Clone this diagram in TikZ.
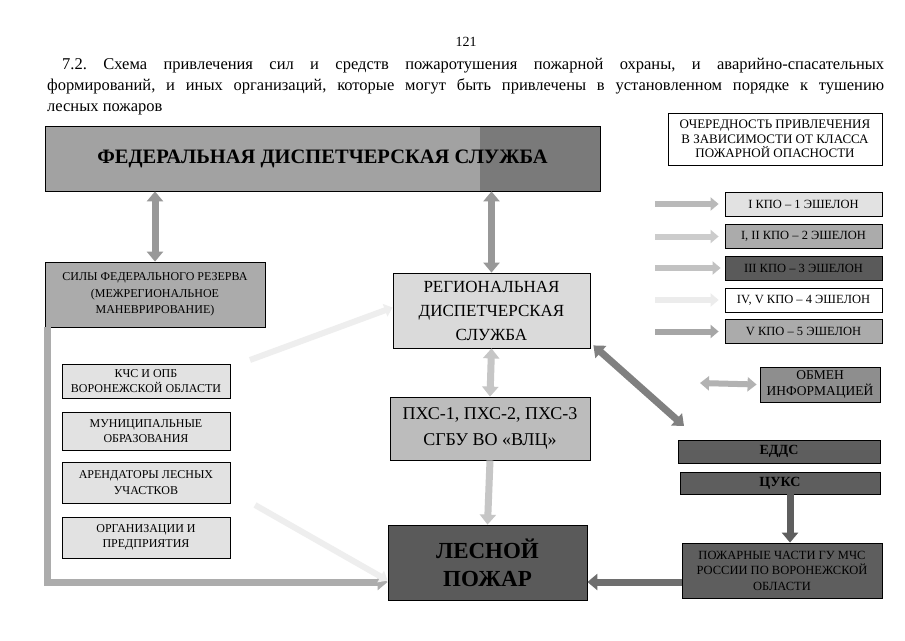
\documentclass[tikz,border=0pt]{standalone}
\usepackage{fontspec}
\setmainfont{Liberation Serif}
\usetikzlibrary{arrows.meta}
\frenchspacing
\definecolor{cfed}{HTML}{A2A2A2}
\definecolor{cfeddk}{HTML}{7A7A7A}
\definecolor{cres}{HTML}{ABABAB}
\definecolor{creg}{HTML}{DADADA}
\definecolor{cpxs}{HTML}{BCBCBC}
\definecolor{cfire}{HTML}{5A5A5A}
\definecolor{cdark}{HTML}{5E5E5E}
\definecolor{cleft}{HTML}{E2E2E2}
\definecolor{cobm}{HTML}{8E8E8E}
\begin{document}
\frenchspacing
\begin{tikzpicture}[x=1pt,y=-1pt,
  box/.style={draw=black,line width=0.8pt,inner sep=0pt,align=center,font=\fontsize{12}{15.5}\selectfont},
  bigarrow/.style={line width=7pt,draw=#1,-{Triangle[width=16pt,length=10pt]}},
  dblarrow/.style={line width=7pt,draw=#1,{Triangle[width=16pt,length=10pt]}-{Triangle[width=16pt,length=10pt]}},
  lgarrow/.style={line width=6pt,draw=#1,-{Triangle[width=13pt,length=8pt]}},
  ttl/.style={anchor=base west,inner sep=0pt,font=\fontsize{16.5}{21}\selectfont}
]
\useasboundingbox (0,0) rectangle (905,640);
\fill[white] (0,0) rectangle (905,640);

% header texts
\node[font=\fontsize{14}{15}\selectfont] (pnum) at (466,42) {121};
\node[ttl] (t1) at (62,69)
  {\makebox[822pt][s]{7.2. Схема привлечения сил и средств пожаротушения пожарной охраны, и аварийно-спасательных}};
\node[ttl] (t2) at (47,90)
  {\makebox[837pt][s]{формирований, и иных организаций, которые могут быть привлечены в установленном порядке к тушению}};
\node[ttl] (t3) at (47,111) {лесных пожаров};

% federal
\node[box,fill=cfed,minimum width=555pt,minimum height=65pt,
  path picture={\fill[cfeddk] ([xshift=-120pt]path picture bounding box.north east) rectangle (path picture bounding box.south east);},
  font=\fontsize{20.5}{22}\bfseries] (fed) at (322.5,158.5) {ФЕДЕРАЛЬНАЯ ДИСПЕТЧЕРСКАЯ СЛУЖБА};

% legend
\node[box,minimum width=214pt,minimum height=52pt,font=\fontsize{13}{14.5}\selectfont] (lgh) at (775,139)
  {ОЧЕРЕДНОСТЬ ПРИВЛЕЧЕНИЯ\\В ЗАВИСИМОСТИ ОТ КЛАССА\\ПОЖАРНОЙ ОПАСНОСТИ};
\tikzset{lgbox/.style={box,minimum width=157pt,minimum height=24pt,font=\fontsize{12.5}{14}\selectfont}}
\node[lgbox,fill=cleft] (l1) at (803.5,204) {I КПО – 1 ЭШЕЛОН};
\node[lgbox,fill=cres] (l2) at (803.5,236.5) {I, II КПО – 2 ЭШЕЛОН};
\node[lgbox,fill=cfire] (l3) at (803.5,268) {III КПО – 3 ЭШЕЛОН};
\node[lgbox,fill=white] (l4) at (803.5,300) {IV, V КПО – 4 ЭШЕЛОН};
\node[lgbox,fill=cres] (l5) at (803.5,331.5) {V КПО – 5 ЭШЕЛОН};
\coordinate (a1) at (655,204);
\coordinate (a2) at (655,236.5);
\coordinate (a3) at (655,268);
\coordinate (a4) at (655,300);
\coordinate (a5) at (655,331.5);
\draw[lgarrow=gray!55] (a1) -- ([xshift=-6pt]l1.west);
\draw[lgarrow=gray!40] (a2) -- ([xshift=-6pt]l2.west);
\draw[lgarrow=gray!120!black!60] (a3) -- ([xshift=-4pt]l3.west);
\draw[lgarrow=gray!15] (a4) -- ([xshift=-6pt]l4.west);
\draw[lgarrow=gray!70] (a5) -- ([xshift=-6pt]l5.west);

% main boxes
\node[box,fill=cres,minimum width=220pt,minimum height=65pt,font=\fontsize{12}{16.5}\selectfont] (fres) at (155,294.5)
  {СИЛЫ ФЕДЕРАЛЬНОГО РЕЗЕРВА\\(МЕЖРЕГИОНАЛЬНОЕ\\МАНЕВРИРОВАНИЕ)};
\node[box,fill=creg,minimum width=197pt,minimum height=75pt,font=\fontsize{17}{24}\selectfont] (reg) at (491.5,310.5)
  {РЕГИОНАЛЬНАЯ\\ДИСПЕТЧЕРСКАЯ\\СЛУЖБА};
\node[box,fill=cpxs,minimum width=200pt,minimum height=63pt,font=\fontsize{18}{26}\selectfont] (pxs) at (490,428.5)
  {ПХС-1, ПХС-2, ПХС-3\\СГБУ ВО «ВЛЦ»};
\node[box,fill=cfire,minimum width=199pt,minimum height=75pt,font=\fontsize{23}{28}\bfseries] (fire) at (487.5,562.5)
  {ЛЕСНОЙ\\ПОЖАР};

\node[box,fill=cleft,minimum width=168pt,minimum height=34pt] (kcs) at (146,381) {КЧС И ОПБ\\ВОРОНЕЖСКОЙ ОБЛАСТИ};
\node[box,fill=cleft,minimum width=168pt,minimum height=38pt] (mun) at (146,431) {МУНИЦИПАЛЬНЫЕ\\ОБРАЗОВАНИЯ};
\node[box,fill=cleft,minimum width=168pt,minimum height=41pt] (arn) at (146,482.5) {АРЕНДАТОРЫ ЛЕСНЫХ\\УЧАСТКОВ};
\node[box,fill=cleft,minimum width=168pt,minimum height=41pt] (org) at (146,537.5) {ОРГАНИЗАЦИИ И\\ПРЕДПРИЯТИЯ};

\node[box,fill=cobm,minimum width=120pt,minimum height=35pt,font=\fontsize{13.5}{15.5}\selectfont] (obm) at (820,384.5) {ОБМЕН\\ИНФОРМАЦИЕЙ};
\node[box,fill=cdark,minimum width=202pt,minimum height=23pt,font=\fontsize{14}{15}\bfseries] (edds) at (779,451.5) {ЕДДС};
\node[box,fill=cdark,minimum width=200pt,minimum height=22pt,font=\fontsize{14}{15}\bfseries] (cuks) at (780,483) {ЦУКС};
\node[box,fill=cdark,minimum width=200pt,minimum height=55pt,font=\fontsize{12.5}{15.5}\selectfont] (pch) at (782,570.5)
  {ПОЖАРНЫЕ ЧАСТИ ГУ МЧС\\РОССИИ ПО ВОРОНЕЖСКОЙ\\ОБЛАСТИ};

% connectors
\coordinate (lvl) at (0,582);
\coordinate (dg) at (684,426);
\coordinate (ob) at (700,383);
\coordinate (f1) at (250,360);
\coordinate (f2) at (255,505);
\draw[dblarrow=gray!85!black!70] (fres.north |- fed.south) -- (fres.north);
\draw[dblarrow=gray!85!black!70] (reg.north |- fed.south) -- (reg.north);
\draw[dblarrow=gray!45] (reg.south) -- (pxs.north);
\draw[bigarrow=gray!45] (pxs.south) -- (fire.north);
\draw[dblarrow=gray!75!black!80] ([shift={(3,-3)}]reg.south east) -- (dg);
\draw[bigarrow=cdark] ([xshift=8pt]pch.north |- cuks.south) -- ([xshift=8pt]pch.north);
\draw[bigarrow=cdark!90] (pch.west |- lvl) -- (fire.east |- lvl);
\draw[line width=7pt,draw=gray!65,-{Triangle[width=16pt,length=10pt]}] ([xshift=3pt]fres.south west) |- (fire.west |- lvl);
\draw[line width=6pt,draw=gray!13,-{Triangle[width=13pt,length=8pt]}] (f1) -- ([yshift=3pt]reg.west);
\draw[line width=6pt,draw=gray!13,-{Triangle[width=13pt,length=8pt]}] (f2) -- ([yshift=-18pt]fire.west);
\draw[line width=6pt,draw=gray!60,{Triangle[width=14pt,length=9pt]}-{Triangle[width=14pt,length=9pt]}] (ob) -- ([xshift=-3pt]obm.west);
\end{tikzpicture}
\end{document}
